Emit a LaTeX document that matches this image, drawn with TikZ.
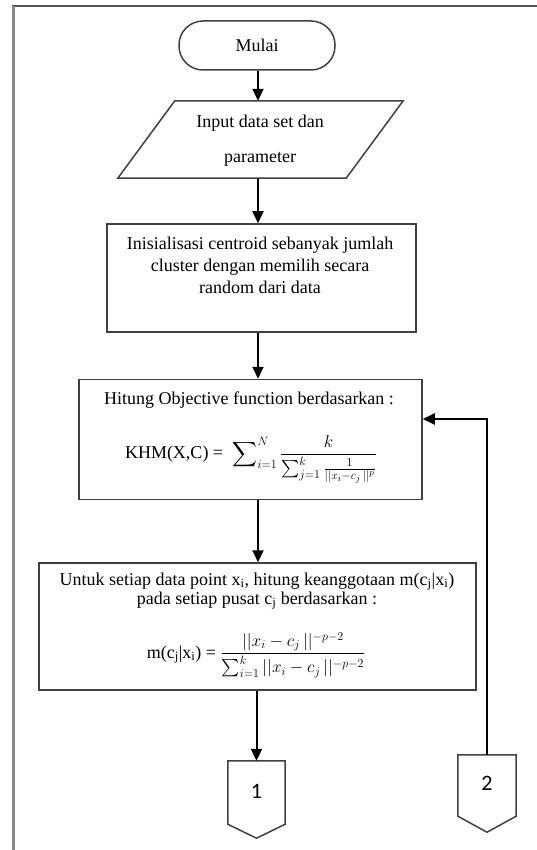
\documentclass[tikz,border=0pt]{standalone}
\usepackage{amsmath}
\usepackage{fontspec}
\setmainfont{Liberation Serif}
\newfontfamily\connfont{Carlito}
\usetikzlibrary{arrows.meta,calc}

\definecolor{boxgray}{HTML}{404040}
\definecolor{frametop}{HTML}{555555}
\definecolor{frameleft}{HTML}{8A8A8A}

\tikzset{
  box/.style={draw=boxgray, line width=1.5pt, inner sep=0pt},
  shapeline/.style={draw=boxgray, line width=1.5pt, line join=miter},
  txt/.style={font=\fontsize{18}{22}\selectfont, align=center, inner sep=0pt},
  flow/.style={-{Triangle[length=12pt,width=11pt]}, line width=2pt, black},
  conn/.style={font=\connfont\fontsize{22}{24}\selectfont, inner sep=0pt}
}

\begin{document}
\begin{tikzpicture}[x=1pt,y=-1pt]
\useasboundingbox (0,0) rectangle (537,850);

% page frame (top and left edges only)
\draw[frametop, line width=2pt] (12,6) -- (537,6);
\draw[frameleft, line width=3pt] (13,6) -- (13,850);

% main flow axis
\coordinate (axis) at (258,0);

% terminator
\node[box, txt, rounded corners=24pt, minimum width=156pt, minimum height=49pt] (start) at (257,45.5) {Mulai};

% input (parallelogram)
\node[inner sep=0pt, minimum width=228pt, minimum height=77pt] (inp) at (260.5,139.5) {};
\draw[shapeline] ($(inp.north west)+(28.5,0)$) -- ($(inp.north east)+(28.5,0)$)
  -- ($(inp.south east)+(-28.5,0)$) -- ($(inp.south west)+(-28.5,0)$) -- cycle;
\node[txt] (inptxt) at (260,141) {Input data set dan\\[13pt]parameter};

% initialisation
\node[box, minimum width=309pt, minimum height=108pt] (init) at (261.5,278) {};
\node[txt] (inittxt) at (260,265) {Inisialisasi centroid sebanyak jumlah\\cluster dengan memilih secara\\random dari data};

% objective function
\node[box, minimum width=343pt, minimum height=120pt] (khm) at (250.5,439.5) {};
\node[txt] (khmtxt) at (249,400) {Hitung Objective function berdasarkan :};
\node[txt] (khmeq) at (251,459) {KHM(X,C) =\; $\displaystyle\sum\nolimits_{i=1}^{N}\dfrac{k}{\sum_{j=1}^{k}\frac{1}{||x_i-c_j\,||^{p}}}$};

% membership
\node[box, minimum width=437pt, minimum height=127pt] (memb) at (257.5,626.5) {};
\node[txt, font=\fontsize{18}{19}\selectfont] (membtxt) at (257,591)
  {Untuk setiap data point x\textsubscript{i}, hitung keanggotaan m(c\textsubscript{j}|x\textsubscript{i})\\pada setiap pusat c\textsubscript{j} berdasarkan :};
\node[txt] (membeq) at (256,655) {m(c\textsubscript{j}|x\textsubscript{i}) = $\dfrac{||x_i-c_j\,||^{-p-2}}{\sum_{i=1}^{k}||x_i-c_j\,||^{-p-2}}$};

% off-page connectors
\node[inner sep=0pt, minimum width=57pt, minimum height=63pt] (off1) at (256.5,792.5) {};
\draw[shapeline] (off1.north west) -- (off1.north east) -- (off1.south east)
  -- ($(off1.south)+(0,14)$) -- (off1.south west) -- cycle;
\node[conn] (off1txt) at (256.5,791) {1};

\node[inner sep=0pt, minimum width=58pt, minimum height=61pt] (off2) at (487,785.5) {};
\draw[shapeline] (off2.north west) -- (off2.north east) -- (off2.south east)
  -- ($(off2.south)+(0,16)$) -- (off2.south west) -- cycle;
\node[conn] (off2txt) at (487,783) {2};

% connectors
\draw[flow] (start.south -| axis) -- (inp.north -| axis);
\draw[flow] (inp.south -| axis) -- (init.north -| axis);
\draw[flow] (init.south -| axis) -- (khm.north -| axis);
\draw[flow] (khm.south -| axis) -- (memb.north -| axis);
\draw[flow] (memb.south -| off1.north) -- (off1.north);
\coordinate (fb) at (0,419);
\draw[flow] (off2.north) |- (khm.east |- fb);
\end{tikzpicture}
\end{document}
